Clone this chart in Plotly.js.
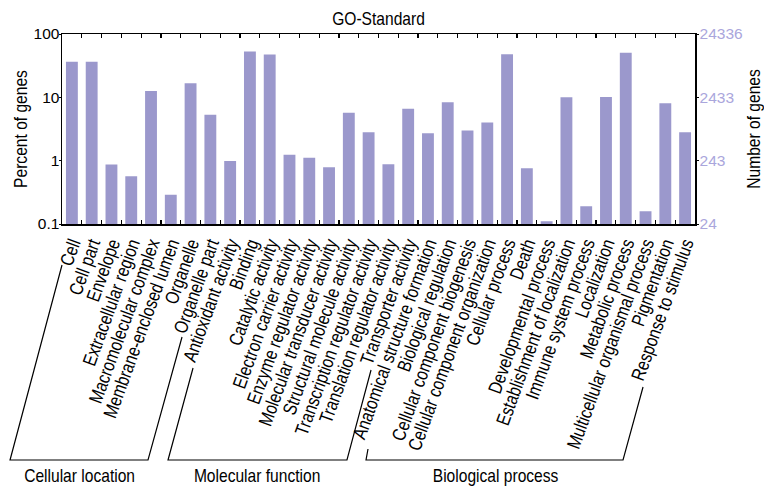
<!DOCTYPE html>
<html>
<head>
<meta charset="utf-8">
<script src="https://cdn.plot.ly/plotly-3.0.1.min.js"></script>
<style>html,body{margin:0;padding:0;background:#fff;}#chart{width:764px;height:487px;}</style>
</head>
<body>
<div id="chart"></div>
<script>
const categories = [
  "Cell","Cell part","Envelope","Extracellular region","Macromolecular complex","Membrane-enclosed lumen","Organelle","Organelle part",
  "Antioxidant activity","Binding","Catalytic activity","Electron carrier activity","Enzyme regulator activity","Molecular transducer activity","Structural molecule activity","Transcription regulator activity","Translation regulator activity","Transporter activity",
  "Anatomical structure formation","Biological regulation","Cellular component biogenesis","Cellular component organization","Cellular process","Death","Developmental process","Establishment of localization","Immune system process","Localization","Metabolic process","Multicellular organismal process","Pigmentation","Response to stimulus"
];
const percentGenes = [
  36.6, 36.6, 0.87, 0.57, 12.6, 0.29, 16.7, 5.3,
  0.99, 52.7, 47.3, 1.24, 1.11, 0.79, 5.7, 2.8, 0.88, 6.6,
  2.7, 8.4, 3.0, 4.0, 47.9, 0.76, 0.111, 10.0, 0.19, 10.1, 50.8, 0.159, 8.1, 2.8
];
const totalGenes = 24336;
const leftTickVals = [0.1, 1, 10, 100];
const leftTickText = ["0.1", "1", "10", "100"];
const rightTickText = ["24", "243", "2433", "24336"];
const groupNames = ["Cellular location", "Molecular function", "Biological process"];

const FONT = "Liberation Sans, Arial, sans-serif";
const FS = 19;          // text drawn at this size, then narrowed horizontally
const NARROW = 0.82;    // the reference uses a narrow face
const barColor = "#9b98cc";
const rightColor = "#aaa6dc";

const geneCounts = percentGenes.map(p => p * totalGenes / 100);
const rightTickVals = leftTickVals.map(v => v * totalGenes / 100);

const traces = [
  {type: "bar", x: categories, y: percentGenes, marker: {color: barColor}, hoverinfo: "x+y"},
  {type: "scatter", mode: "markers", x: categories, y: geneCounts, yaxis: "y2",
   marker: {opacity: 0, size: 1}, hoverinfo: "skip", showlegend: false}
];

function P(px, py) { return [(px - 62) / 633, (224 - py) / 190]; }
function path(pts) {
  return pts.map((p, i) => { const q = P(p[0], p[1]); return (i ? "L" : "M") + q[0].toFixed(4) + "," + q[1].toFixed(4); }).join(" ");
}
const lineStyle = {color: "#000", width: 1.2};
const shapes = [
  [[62,265],[10,460],[148,460],[182,337]],
  [[193,368],[168,460],[347,460],[371,370]],
  [[368,449],[366,460],[623,460],[643,387]]
].map(pts => ({type: "path", xref: "paper", yref: "paper", path: path(pts), line: lineStyle}));

const labelPos = [[79,475],[257,475],[495,475]];
const annotations = groupNames.map((t, i) => {
  const q = P(labelPos[i][0], labelPos[i][1]);
  return {text: t, xref: "paper", yref: "paper", x: q[0], y: q[1], showarrow: false,
          xanchor: "center", yanchor: "middle", font: {family: FONT, size: FS, color: "#000"}};
});

const layout = {
  width: 764, height: 487,
  margin: {l: 62, r: 69, t: 34, b: 263},
  paper_bgcolor: "#fff", plot_bgcolor: "#fff",
  showlegend: false,
  bargap: 0.4,
  font: {family: FONT, color: "#000"},
  title: {text: "GO-Standard", x: 0.5, xref: "paper", y: 0.963, yanchor: "middle", font: {family: FONT, size: FS, color: "#000"}},
  xaxis: {
    type: "category", automargin: false, range: [-0.5, categories.length - 0.5],
    tickmode: "linear", tick0: 0, dtick: 1,
    showline: true, linecolor: "#000", linewidth: 1.5, mirror: "ticks",
    ticks: "inside", tickson: "boundaries", ticklen: 4, tickcolor: "#000", tickwidth: 1.2,
    tickangle: -70, tickfont: {family: FONT, size: FS, color: "#000"},
    showgrid: false, zeroline: false, fixedrange: true
  },
  yaxis: {
    type: "log", range: [-1, 2], automargin: false,
    tickvals: leftTickVals, ticktext: leftTickText,
    showline: true, linecolor: "#000", linewidth: 1.5,
    ticks: "outside", ticklen: 2, tickcolor: "#000", ticklabelstandoff: -4,
    tickfont: {family: FONT, size: 15.5, color: "#000"},
    showgrid: false, zeroline: false,
    title: {text: "Percent of genes", font: {family: FONT, size: FS, color: "#000"}, standoff: 1}
  },
  yaxis2: {
    type: "log", overlaying: "y", side: "right", anchor: "x", automargin: false,
    range: [Math.log10(totalGenes / 1000), Math.log10(totalGenes)],
    tickvals: rightTickVals, ticktext: rightTickText,
    showline: true, linecolor: "#000", linewidth: 1.5,
    ticks: "outside", ticklen: 2, tickcolor: "#000", ticklabelstandoff: -2,
    tickfont: {family: FONT, size: 15.5, color: rightColor},
    showgrid: false, zeroline: false,
    title: {text: "Number of genes", font: {family: FONT, size: FS, color: "#000"}, standoff: 5}
  },
  shapes: shapes,
  annotations: annotations
};

function narrowTexts() {
  const sel = "#chart .xtick text, #chart .gtitle, #chart .ytitle, #chart .y2title, #chart .annotation-text";
  document.querySelectorAll(sel).forEach(t => {
    const L = t.getComputedTextLength();
    if (L > 0) {
      t.setAttribute("textLength", (L * NARROW).toFixed(2));
      t.setAttribute("lengthAdjust", "spacingAndGlyphs");
    }
  });
}

Plotly.newPlot("chart", traces, layout, {displayModeBar: false, staticPlot: true}).then(narrowTexts);
</script>
</body>
</html>
